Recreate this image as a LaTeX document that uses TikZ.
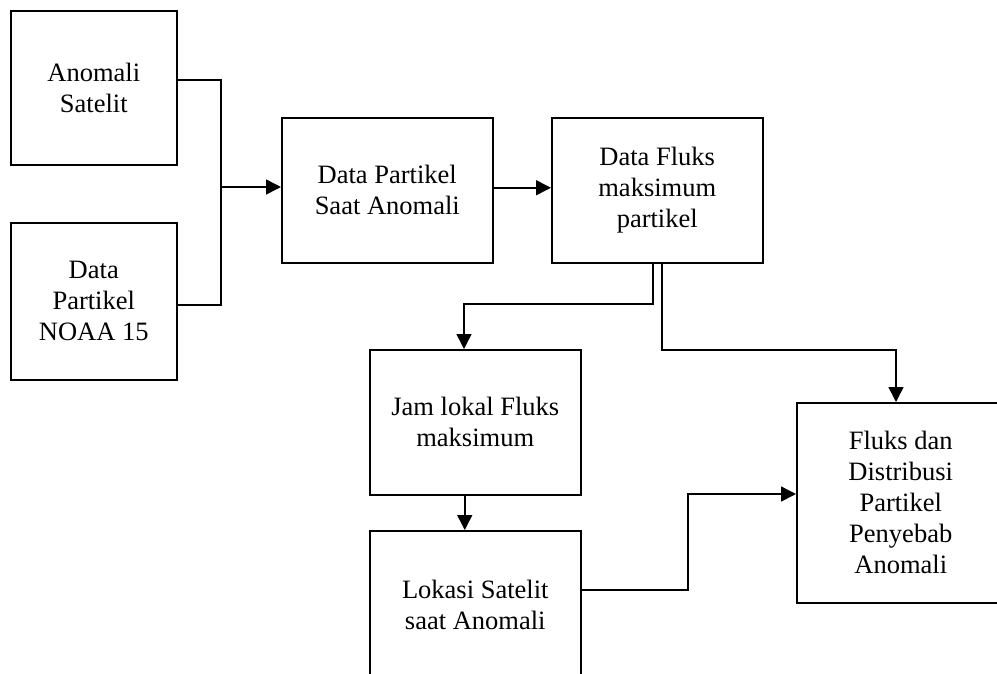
\documentclass[tikz,border=0pt]{standalone}
\usepackage{fontspec}
\setmainfont{Liberation Serif}
\usetikzlibrary{arrows.meta}
\begin{document}
\begin{tikzpicture}[x=1pt,y=-1pt,line width=1.5pt,
  box/.style={draw, line width=1.5pt, inner sep=0pt, align=center, anchor=north west,
    font=\fontsize{26.5}{31}\selectfont},
  arr/.style={-{Triangle[length=15pt,width=15pt]}}]
\useasboundingbox (0,0) rectangle (997,673);
\clip (0,0) rectangle (997,673);
\node[box, minimum width=166pt, minimum height=154pt] (A) at (10,10) {Anomali\\Satelit};
\node[box, minimum width=166pt, minimum height=157pt] (B) at (10,222) {Data\\Partikel\\NOAA 15};
\node[box, minimum width=211pt, minimum height=145pt] (C) at (281,117) {Data Partikel\\Saat Anomali};
\node[box, minimum width=211pt, minimum height=145pt] (D) at (551,117) {Data Fluks\\maksimum\\partikel};
\node[box, minimum width=211pt, minimum height=145pt] (E) at (369,349) {Jam lokal Fluks\\maksimum};
\node[box, minimum width=211pt, minimum height=148pt] (F) at (369,530) {Lokasi Satelit\\saat Anomali};
\node[box, minimum width=208pt, minimum height=200pt] (G) at (796,402) {Fluks dan\\Distribusi\\Partikel\\Penyebab\\Anomali};
\coordinate (j1) at (221,187);
\coordinate (b1) at (464,304);
\coordinate (b2) at (896,350);
\coordinate (b3) at (688,494);
\draw ([yshift=8pt]A.east) -| (j1) |- ([yshift=-3.5pt]B.east);
\draw[arr] (j1) -- (j1 -| C.west);
\draw[arr] ([yshift=2.5pt]C.east) -- ([yshift=2.5pt]D.west);
\draw[arr] ([xshift=-4.5pt]D.south) |- (b1) -- (b1 |- E.north);
\draw[arr] ([xshift=4.5pt]D.south) |- (b2) -- (b2 |- G.north);
\draw[arr] ([xshift=-10.5pt]E.south) -- ([xshift=-10.5pt]F.north);
\draw[arr] ([yshift=15pt]F.east) -| (b3) -- (b3 -| G.west);
\end{tikzpicture}
\end{document}
